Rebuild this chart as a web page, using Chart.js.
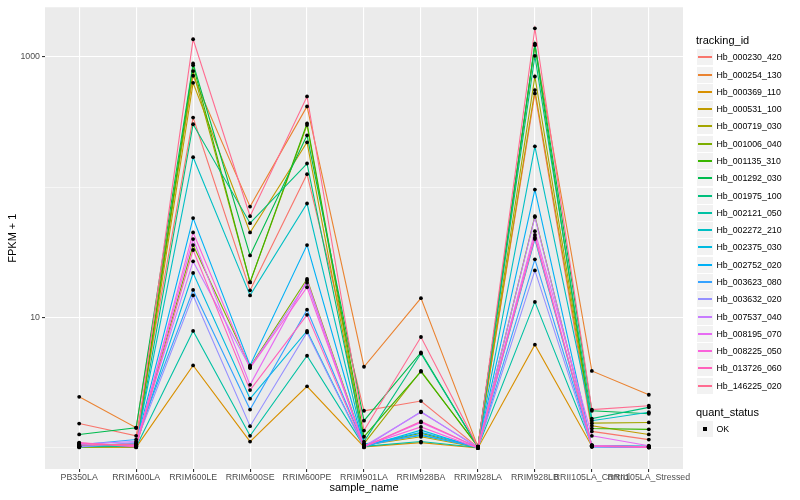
<!DOCTYPE html>
<html>
<head>
<meta charset="utf-8">
<script src="https://cdn.jsdelivr.net/npm/chart.js@4.4.1/dist/chart.umd.min.js"></script>
<style>
  body { margin: 0; background: #fff; }
  #wrap { position: relative; width: 800px; height: 500px; font-family: 'Liberation Sans', Arial, sans-serif; }
  #legend div { position: absolute; white-space: nowrap; }
  .lt { font-size: 11px; color: #000; }
  .lx { font-size: 8.8px; color: #000; }
  .key { width: 16px; height: 16px; background: #F2F2F2; }
</style>
</head>
<body>
<div id="wrap">
  <canvas id="c" width="800" height="500"></canvas>
  <div id="legend"></div>
</div>
<script>
// samples on the x axis
var sampleNames = ['PB350LA', 'RRIM600LA', 'RRIM600LE', 'RRIM600SE', 'RRIM600PE', 'RRIM901LA',
    'RRIM928BA', 'RRIM928LA', 'RRIM928LB', 'RRII105LA_Control', 'RRII105LA_Stressed'];

var trackingIds = ['Hb_000230_420', 'Hb_000254_130', 'Hb_000369_110', 'Hb_000531_100', 'Hb_000719_030',
    'Hb_001006_040', 'Hb_001135_310', 'Hb_001292_030', 'Hb_001975_100', 'Hb_002121_050',
    'Hb_002272_210', 'Hb_002375_030', 'Hb_002752_020', 'Hb_003623_080', 'Hb_003632_020',
    'Hb_007537_040', 'Hb_008195_070', 'Hb_008225_050', 'Hb_013726_060', 'Hb_146225_020'];

var trackColors = ['#F8766D', '#EA8331', '#D89000', '#C09B00', '#A3A500', '#7CAE00', '#39B600', '#00BB4E',
    '#00BF7D', '#00C1A3', '#00BFC4', '#00BAE0', '#00B0F6', '#35A2FF', '#9590FF', '#C77CFF',
    '#E76BF3', '#FA62DB', '#FF62BC', '#FF6C91'];

// FPKM + 1, one value per sample
var hb000230_420 = [1.54, 1.24, 342, 16.2, 126, 1.93, 2.29, 1.01, 524, 1.34, 1.16];
var hb000254_130 = [2.47, 1.43, 716, 71, 417, 4.2, 14.1, 1.02, 1240, 3.9, 2.56];
var hb000369_110 = [1.02, 1.01, 4.3, 1.12, 2.97, 1.02, 1.1, 1.0, 6.2, 1.03, 1.01];
var hb000531_100 = [1.03, 1.02, 632, 45, 221, 1.05, 1.22, 1.01, 556, 1.48, 1.27];
var hb000719_030 = [1.02, 1.03, 778, 18.6, 300, 1.08, 3.9, 1.02, 707, 1.55, 1.57];
var hb001006_040 = [1.01, 1.03, 36, 4.2, 19.8, 1.04, 1.3, 1.0, 60, 1.04, 1.02];
var hb001135_310 = [1.04, 1.05, 864, 18.7, 309, 1.22, 3.85, 1.03, 1228, 1.41, 1.39];
var hb001292_030 = [1.27, 1.43, 889, 30, 250, 1.62, 5.4, 1.02, 1265, 1.93, 1.83];
var hb001975_100 = [1.03, 1.04, 304, 53, 152, 1.12, 5.3, 1.02, 1018, 1.68, 2.05];
var hb002121_050 = [1.05, 1.02, 7.9, 1.24, 5.1, 1.03, 1.12, 1.01, 13.2, 1.05, 1.03];
var hb002272_210 = [1.04, 1.06, 170, 14.8, 75, 1.07, 1.25, 1.02, 206, 1.62, 1.88];
var hb002375_030 = [1.02, 1.07, 22, 2.39, 7.9, 1.02, 1.37, 1.0, 40, 1.02, 1.01];
var hb002752_020 = [1.03, 1.08, 58, 4.3, 36, 1.05, 1.32, 1.02, 96, 1.03, 1.02];
var hb003623_080 = [1.06, 1.16, 16.3, 1.97, 11.5, 1.04, 1.27, 1.01, 28, 1.04, 1.03];
var hb003632_020 = [1.02, 1.1, 14.8, 1.47, 7.7, 1.01, 1.9, 1.0, 23, 1.02, 1.01];
var hb007537_040 = [1.07, 1.12, 27, 4.15, 18.5, 1.03, 1.88, 1.02, 59, 1.05, 1.02];
var hb008195_070 = [1.08, 1.05, 40, 3.05, 19.3, 1.02, 1.57, 1.01, 46, 1.24, 1.04];
var hb008225_050 = [1.09, 1.04, 45, 4.1, 17.1, 1.04, 1.45, 1.0, 43, 1.03, 1.01];
var hb013726_060 = [1.1, 1.02, 33, 2.78, 10.5, 1.02, 1.6, 1.01, 41, 1.04, 1.02];
var hb146225_020 = [1.05, 1.07, 1365, 60, 497, 1.36, 7.1, 1.02, 1656, 1.97, 2.11];

var seriesValues = [hb000230_420, hb000254_130, hb000369_110, hb000531_100, hb000719_030,
    hb001006_040, hb001135_310, hb001292_030, hb001975_100, hb002121_050,
    hb002272_210, hb002375_030, hb002752_020, hb003623_080, hb003632_020,
    hb007537_040, hb008195_070, hb008225_050, hb013726_060, hb146225_020];

var yBreaks = [10, 1000];      // labelled
var yMinorBreaks = [1, 100];   // grid only
var yMin = 0.69, yMax = 2400;

var datasets = seriesValues.map(function (vals, i) {
    return {
        label: trackingIds[i],
        data: vals.map(function (v, j) { return { x: j, y: v }; }),
        borderColor: trackColors[i],
        borderWidth: 1.1,
        pointRadius: 0,
        tension: 0,
        fill: false,
        order: seriesValues.length - i
    };
});

var panelBg = {
    id: 'panelBg',
    beforeDraw: function (chart) {
        var a = chart.chartArea, ctx = chart.ctx;
        ctx.save();
        ctx.fillStyle = '#EBEBEB';
        ctx.fillRect(a.left, a.top, a.right - a.left, a.bottom - a.top);
        ctx.restore();
    }
};

// ggplot draws the points after all the lines
var dots = {
    id: 'dots',
    afterDatasetsDraw: function (chart) {
        var ctx = chart.ctx;
        ctx.save();
        ctx.fillStyle = '#000';
        chart.data.datasets.forEach(function (ds, i) {
            chart.getDatasetMeta(i).data.forEach(function (pt) {
                ctx.beginPath();
                ctx.arc(pt.x, pt.y, 1.9, 0, Math.PI * 2);
                ctx.fill();
            });
        });
        ctx.restore();
    }
};

Chart.defaults.font.family = "'Liberation Sans', Arial, sans-serif";

new Chart(document.getElementById('c').getContext('2d'), {
    type: 'line',
    data: { datasets: datasets },
    plugins: [panelBg, dots],
    options: {
        responsive: false,
        animation: false,
        events: [],
        layout: { padding: { left: 0, right: 117, top: 5, bottom: 0 } },
        plugins: { legend: { display: false }, tooltip: { enabled: false } },
        scales: {
            x: {
                type: 'linear',
                min: -0.6,
                max: sampleNames.length - 0.4,
                afterBuildTicks: function (s) {
                    s.ticks = sampleNames.map(function (n, i) { return { value: i }; });
                },
                ticks: {
                    autoSkip: false, maxRotation: 0, minRotation: 0,
                    color: '#4D4D4D', font: { size: 8.8 }, padding: 0,
                    callback: function (v) { return sampleNames[v]; }
                },
                grid: { color: '#FFFFFF', lineWidth: 1.1, tickColor: '#333333', tickLength: 3 },
                border: { display: false },
                title: { display: true, text: 'sample_name', color: '#000', font: { size: 11 }, padding: { top: 0, bottom: 5 } },
                afterFit: function (s) { s.height = 31; }
            },
            y: {
                type: 'logarithmic',
                min: yMin,
                max: yMax,
                afterBuildTicks: function (s) {
                    s.ticks = yMinorBreaks.concat(yBreaks).sort(function (a, b) { return a - b; })
                        .map(function (v) { return { value: v }; });
                },
                ticks: {
                    color: '#4D4D4D', font: { size: 8.8 }, padding: 2,
                    callback: function (v) { return yBreaks.indexOf(v) >= 0 ? String(v) : ''; }
                },
                grid: {
                    color: '#FFFFFF',
                    lineWidth: function (c) { return yBreaks.indexOf(c.tick.value) >= 0 ? 1.1 : 0.55; },
                    tickColor: function (c) { return yBreaks.indexOf(c.tick.value) >= 0 ? '#333333' : 'rgba(0,0,0,0)'; },
                    tickLength: 3
                },
                border: { display: false },
                title: { display: true, text: 'FPKM + 1', color: '#000', font: { size: 11 }, padding: { top: 6, bottom: 0 } },
                afterFit: function (s) { s.width = 45; }
            }
        }
    }
});

// legend, ggplot style
var leg = document.getElementById('legend');
function add(cls, left, top, html, style) {
    var d = document.createElement('div');
    d.className = cls;
    d.style.left = left + 'px';
    d.style.top = top + 'px';
    if (style) d.style.cssText += style;
    d.innerHTML = html;
    leg.appendChild(d);
    return d;
}
add('lt', 696, 33, 'tracking_id', 'line-height:15px;');
trackingIds.forEach(function (id, i) {
    var cy = 57.3 + i * 17.28;
    var k = add('key', 697, Math.round(cy - 8), '');
    var ln = document.createElement('div');
    ln.style.cssText = 'position:absolute;left:1px;width:14px;top:7px;height:2px;background:' + trackColors[i];
    k.appendChild(ln);
    add('lx', 716.5, Math.round(cy - 6), id, 'line-height:12px;');
});
add('lt', 696, 404.5, 'quant_status', 'line-height:15px;');
var kk = add('key', 697, 421, '');
var sq = document.createElement('div');
sq.style.cssText = 'position:absolute;left:6px;top:6px;width:4px;height:4px;background:#000';
kk.appendChild(sq);
add('lx', 716.5, 423, 'OK', 'line-height:12px;');
</script>
</body>
</html>
